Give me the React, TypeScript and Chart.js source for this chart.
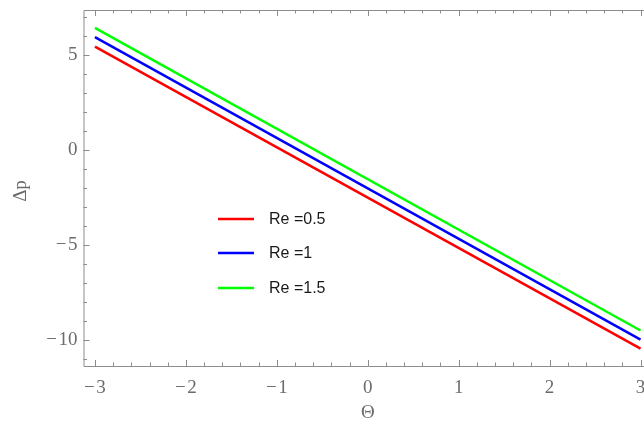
import React, { useEffect, useRef } from "react";
import { Chart, registerables } from "chart.js";

Chart.register(...registerables);

// Θ endpoints of each straight line
const thetaValues = [-3, 3];
// Δp values of each series at those Θ values
const dpRe05 = [5.45, -10.45];
const dpRe1 = [5.95, -9.98];
const dpRe15 = [6.44, -9.5];

const seriesLabels = ["Re =0.5", "Re =1", "Re =1.5"];
const seriesColors = ["#ff0000", "#0000ff", "#00ff00"];

const xTicks = [-3, -2, -1, 0, 1, 2, 3];
const yTicks = [-10, -5, 0, 5];
const xTitle = "Θ";
const yTitle = "Δp";

const X_MIN = -3.126;
const X_MAX = 3.126;
const Y_MIN = -11.37;
const Y_MAX = 7.38;

const FRAME = "#8c8c8c";
const LABEL = "#6b6b6b";
const SERIF = '"Liberation Serif", "DejaVu Serif", serif';

const fmt = (v: number) => (v < 0 ? "\u2212\u200A" + Math.abs(v) : String(v));

const framePlugin = {
  id: "frameTicks",
  afterDatasetsDraw(chart: any) {
    const { ctx, chartArea } = chart;
    const xs = chart.scales.x;
    const ys = chart.scales.y;
    const { left, right, top, bottom } = chartArea;
    ctx.save();
    ctx.strokeStyle = FRAME;
    ctx.lineWidth = 1;
    // frame
    ctx.beginPath();
    ctx.rect(left + 0.5, top + 0.5, right - left, bottom - top);
    ctx.stroke();

    // x ticks (major every 1, minor every 0.2), inward on bottom and top
    for (let i = -16; i <= 16; i++) {
      const v = i * 0.2;
      if (v < X_MIN || v > X_MAX) continue;
      const major = i % 5 === 0;
      const len = major ? 6 : 3.5;
      const px = Math.round(xs.getPixelForValue(v)) + 0.5;
      ctx.beginPath();
      ctx.moveTo(px, bottom);
      ctx.lineTo(px, bottom - len);
      ctx.moveTo(px, top);
      ctx.lineTo(px, top + len);
      ctx.stroke();
    }
    // y ticks (major every 5, minor every 1), inward on left and right
    for (let v = -11; v <= 7; v++) {
      const major = v % 5 === 0;
      const len = major ? 6 : 3.5;
      const py = Math.round(ys.getPixelForValue(v)) + 0.5;
      ctx.beginPath();
      ctx.moveTo(left, py);
      ctx.lineTo(left + len, py);
      ctx.moveTo(right, py);
      ctx.lineTo(right - len, py);
      ctx.stroke();
    }

    // axis titles
    ctx.fillStyle = LABEL;
    ctx.font = `19px ${SERIF}`;
    ctx.textAlign = "center";
    ctx.textBaseline = "middle";
    ctx.fillText(xTitle, xs.getPixelForValue(0), 413);
    ctx.save();
    ctx.translate(21, 191);
    ctx.rotate(-Math.PI / 2);
    ctx.fillText(yTitle, 0, 0);
    ctx.restore();

    // legend inside the plot
    const legendX = 218;
    const legendY = [219, 253, 288];
    ctx.font = '16px "Liberation Sans", Arial, sans-serif';
    ctx.textAlign = "left";
    ctx.fillStyle = "#1a1a1a";
    chart.data.datasets.forEach((ds: any, i: number) => {
      ctx.strokeStyle = ds.borderColor;
      ctx.lineWidth = 2.5;
      ctx.beginPath();
      ctx.moveTo(legendX, legendY[i]);
      ctx.lineTo(legendX + 36, legendY[i]);
      ctx.stroke();
      ctx.fillText(ds.label, legendX + 51, legendY[i] + 1);
    });
    ctx.restore();
  },
};

export default function App() {
  const ref = useRef<HTMLCanvasElement>(null);

  useEffect(() => {
    if (!ref.current) return;
    const series = [dpRe05, dpRe1, dpRe15];
    const chart = new Chart(ref.current, {
      type: "line",
      data: {
        datasets: series.map((vals, i) => ({
          label: seriesLabels[i],
          data: thetaValues.map((t, j) => ({ x: t, y: vals[j] })),
          borderColor: seriesColors[i],
          backgroundColor: seriesColors[i],
          borderWidth: 2.5,
          pointRadius: 0,
          fill: false,
          tension: 0,
        })),
      },
      options: {
        animation: false,
        responsive: false,
        devicePixelRatio: 1,
        layout: { padding: { left: 0, top: 10, right: 28, bottom: 0 } },
        plugins: { legend: { display: false }, tooltip: { enabled: false } },
        scales: {
          x: {
            type: "linear",
            min: X_MIN,
            max: X_MAX,
            grid: { display: false, tickLength: 0 },
            border: { display: false },
            afterBuildTicks: (s: any) => {
              s.ticks = xTicks.map((v) => ({ value: v }));
            },
            afterFit: (s: any) => {
              s.height = 62;
              s.paddingLeft = 0;
              s.paddingRight = 0;
            },
            ticks: {
              color: LABEL,
              font: { family: SERIF, size: 19 },
              padding: 11,
              maxRotation: 0,
              callback: (v: any) => fmt(Number(v)),
            },
          },
          y: {
            type: "linear",
            min: Y_MIN,
            max: Y_MAX,
            grid: { display: false, tickLength: 0 },
            border: { display: false },
            afterBuildTicks: (s: any) => {
              s.ticks = yTicks.map((v) => ({ value: v }));
            },
            afterFit: (s: any) => {
              s.width = 83.5;
              s.paddingTop = 0;
              s.paddingBottom = 0;
            },
            ticks: {
              color: LABEL,
              font: { family: SERIF, size: 19 },
              padding: 6,
              callback: (v: any) => fmt(Number(v)),
            },
          },
        },
      },
      plugins: [framePlugin],
    });
    return () => chart.destroy();
  }, []);

  return (
    <div
      style={{
        position: "absolute",
        left: 0,
        top: 0,
        width: 644,
        height: 428,
        overflow: "hidden",
        background: "#fff",
      }}
    >
      <canvas ref={ref} width={680} height={428} style={{ display: "block" }} />
    </div>
  );
}
